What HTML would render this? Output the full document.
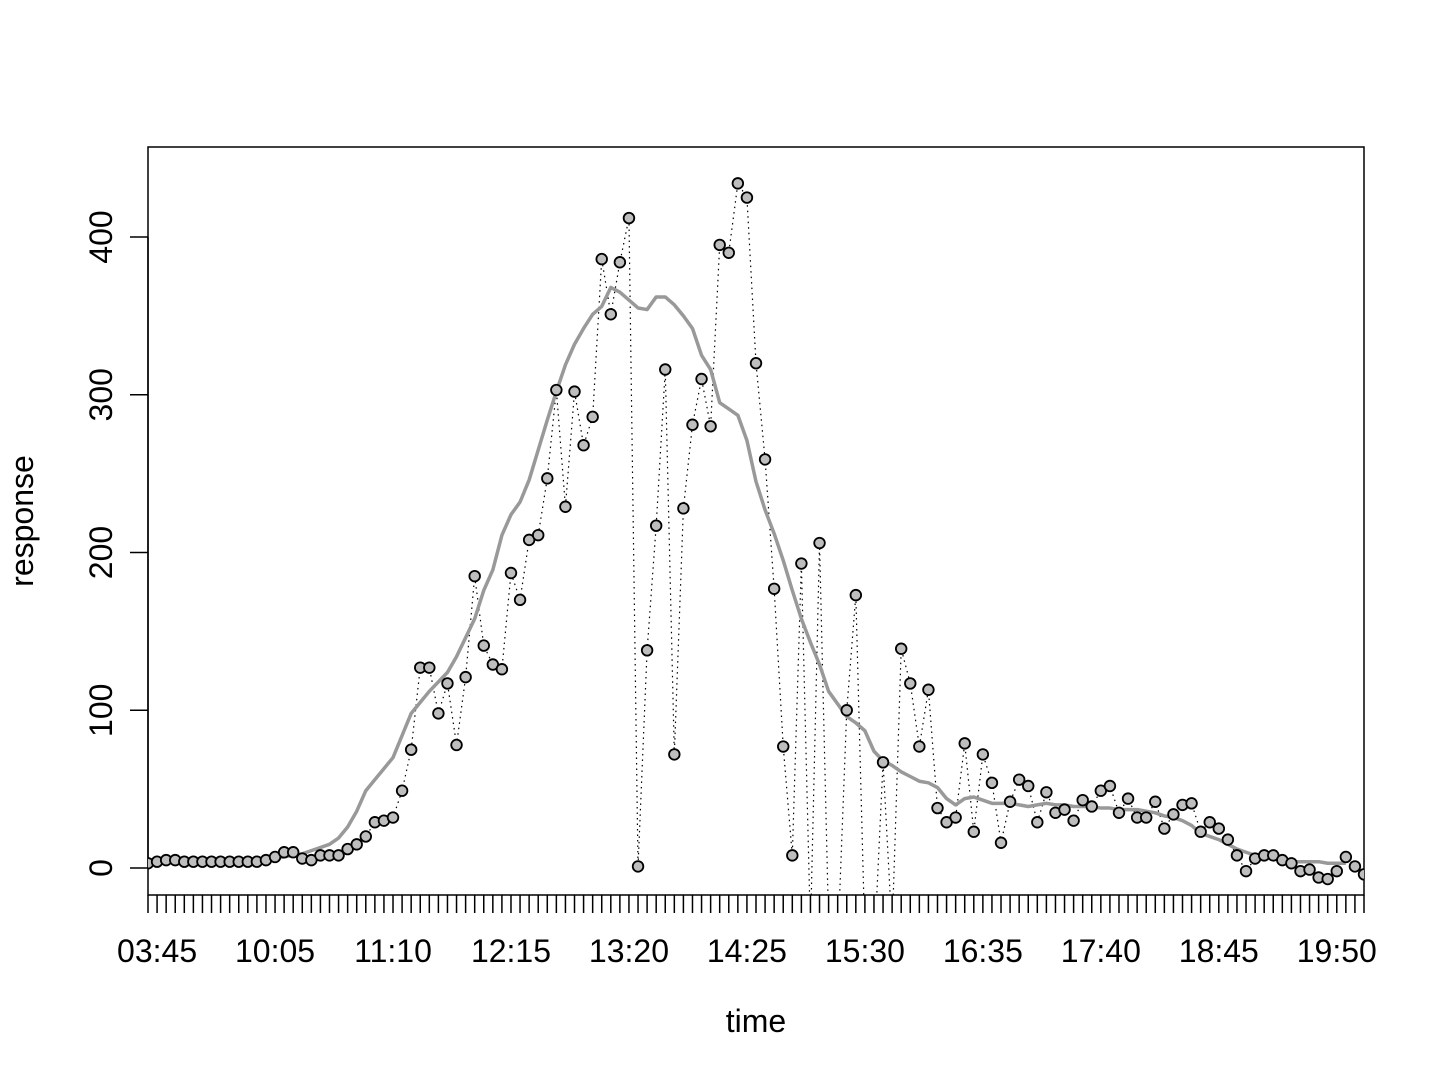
<!DOCTYPE html>
<html><head><meta charset="utf-8"><style>html,body{margin:0;padding:0;background:#fff}svg{display:block}</style></head>
<body>
<svg id="chart" width="1440" height="1080" xmlns="http://www.w3.org/2000/svg" font-family="Liberation Sans, Arial, sans-serif">
<defs><clipPath id="plotclip"><rect x="148" y="147" width="1216" height="748"/></clipPath></defs>
<rect x="148" y="147" width="1216" height="748" fill="none" stroke="#000" stroke-width="1.5"/>
<g id="yaxis"></g>
<g id="xaxis"></g>
<g clip-path="url(#plotclip)">
<g id="series"></g>
</g>
<text x="756" y="1032" font-size="32" text-anchor="middle">time</text>
<text x="33" y="521" font-size="32" text-anchor="middle" transform="rotate(-90 33 521)">response</text>
</svg>
<script>
const responseValues = [3,4,5,5,4,4,4,4,4,4,4,4,4,5,7,10,10,6,5,8,8,8,12,15,20,29,30,32,49,75,127,127,98,117,78,121,185,141,129,126,187,170,208,211,247,303,229,302,268,286,386,351,384,412,1,138,217,316,72,228,281,310,280,395,390,434,425,320,259,177,77,8,193,-40,206,-35,-50,100,173,-45,-55,67,-40,139,117,77,113,38,29,32,79,23,72,54,16,42,56,52,29,48,35,37,30,43,39,49,52,35,44,32,32,42,25,34,40,41,23,29,25,18,8,-2,6,8,8,5,3,-2,-1,-6,-7,-2,7,1,-4];
const smoothValues = [4,4,4,4,4,4,4,4,4,4,4,4,5,5,6,7,8,9,11,13,15,19,26,36,49,56,63,70,84,98,105,112,118,124,134,146,158,176,189,211,224,232,246,265,284,302,319,332,342,351,356,368,365,360,355,354,362,362,357,350,342,325,316,295,291,287,271,245,227,212,195,176,158,143,129,112,104,96,92,87,74,68,65,61,58,55,54,51,44,40,44,45,43,41,41,41,40,39,40,41,40,40,39,39,39,38,38,37,37,37,36,35,33,32,30,27,22,20,18,15,12,10,8,7,6,5,4,4,4,4,3,3,3];
const yTicks = [0,100,200,300,400];
const xTickLabels = ["03:45","10:05","11:10","12:15","13:20","14:25","15:30","16:35","17:40","18:45","19:50"];
const xLabelIndices = [1,14,27,40,53,66,79,92,105,118,131];

const NS = "http://www.w3.org/2000/svg";
function xs(i){ return 148 + i * (1364 - 148) / (responseValues.length - 1); }
function ys(v){ return 868 - v * (868 - 237) / 400; }
function mk(tag, attrs, parent){ const e = document.createElementNS(NS, tag); for (const k in attrs) e.setAttribute(k, attrs[k]); parent.appendChild(e); return e; }

const yaxis = document.getElementById('yaxis');
yTicks.forEach(t => {
  const y = ys(t);
  const tk = mk('line', {x1:148, x2:130, y1:y, y2:y, stroke:'#000', 'stroke-width':1.5}, yaxis);
  
  
  const lb = mk('text', {x:112, y:y, 'font-size':32, 'text-anchor':'middle', transform:'rotate(-90 112 ' + y + ')'}, yaxis);
  lb.textContent = t;
  
  
});
mk('line', {x1:148, x2:148, y1:ys(0), y2:ys(400), stroke:'#000', 'stroke-width':1.5}, yaxis);

const xaxis = document.getElementById('xaxis');
responseValues.forEach((v, i) => {
  const x = xs(i);
  const tk = mk('line', {x1:x, x2:x, y1:895, y2:913, stroke:'#000', 'stroke-width':1.5}, xaxis);
  
  
});
xLabelIndices.forEach((idx, j) => {
  const lb = mk('text', {x:xs(idx), y:962, 'font-size':32, 'text-anchor':'middle'}, xaxis);
  lb.textContent = xTickLabels[j];
  
  
});

const series = document.getElementById('series');
const dotted = mk('polyline', {points: responseValues.map((v,i)=>xs(i)+','+ys(v)).join(' '), fill:'none', stroke:'#000', 'stroke-width':1.2, 'stroke-dasharray':'1.5 4'}, series);


const smooth = mk('polyline', {points: smoothValues.map((v,i)=>xs(i)+','+ys(v)).join(' '), fill:'none', stroke:'#999', 'stroke-width':3.5, 'stroke-linejoin':'round'}, series);


responseValues.forEach((v, i) => {
  const c = mk('circle', {cx:xs(i), cy:ys(v), r:5.3, fill:'#bebebe', stroke:'#000', 'stroke-width':1.8}, series);
  
  
});
</script>
</body></html>
